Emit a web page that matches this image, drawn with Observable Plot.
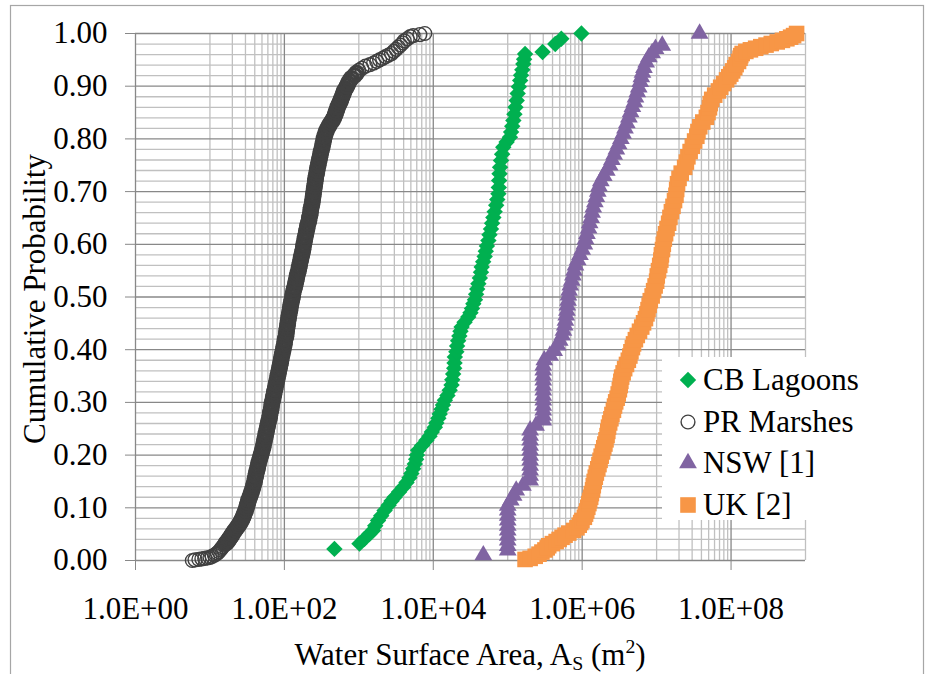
<!DOCTYPE html>
<html>
<head>
<meta charset="utf-8">
<script src="https://cdn.jsdelivr.net/npm/d3@7"></script>
<script src="https://cdn.jsdelivr.net/npm/@observablehq/plot@0.6"></script>
<style>
  html, body { margin: 0; padding: 0; background: #fff; }
  #chart { position: relative; width: 927px; height: 674px; overflow: hidden; }
  #legend { position: absolute; left: 662px; top: 357px; width: 212px; height: 163px;
            background: #fff; box-sizing: border-box; padding-top: 2px; }
  .row { position: relative; height: 41.7px; }
  .row svg { position: absolute; left: 14px; top: 8.85px; }
  .row span { position: absolute; left: 41px; top: 0; line-height: 41.7px;
              color: #000; white-space: nowrap; }
</style>
</head>
<body>
<div id="chart"></div>
<script>
// Cumulative distributions of water surface area: [area (m²), cumulative probability]
const cbLagoons = [
  [470,0.022],[1020,0.032],[1190,0.041],[1380,0.050],[1550,0.057],[1660,0.066],[1810,0.076],
  [2000,0.085],[2220,0.095],[2510,0.105],[2750,0.113],[3020,0.120],[3470,0.130],[3930,0.139],
  [4370,0.148],[4790,0.157],[5080,0.165],[5370,0.174],[5640,0.183],[5890,0.192],[6030,0.200],
  [6250,0.209],[7080,0.218],[8090,0.228],[8910,0.236],[9550,0.244],[10500,0.253],[11000,0.261],
  [11700,0.270],[12200,0.278],[12900,0.287],[13500,0.295],[14300,0.304],[15500,0.313],[16600,0.323],
  [17600,0.333],[18000,0.343],[18500,0.354],[19100,0.365],[19300,0.375],[19500,0.386],[20400,0.396],
  [20900,0.407],[21600,0.417],[22400,0.426],[23200,0.435],[24000,0.443],[26300,0.452],[29500,0.462],
  [31600,0.470],[33100,0.478],[34500,0.487],[36300,0.495],[37600,0.505],[38900,0.515],[40300,0.525],
  [42200,0.536],[43700,0.547],[44700,0.557],[46800,0.567],[49000,0.577],[50700,0.587],[52500,0.597],
  [55000,0.607],[56900,0.618],[59600,0.629],[61700,0.640],[64100,0.651],[66800,0.662],[70000,0.674],
  [72400,0.685],[75000,0.696],[75900,0.708],[76700,0.721],[77600,0.734],[78900,0.746],[81300,0.759],
  [84100,0.771],[87100,0.784],[96600,0.794],[107000,0.803],[111000,0.813],[115000,0.824],[119000,0.835],
  [123000,0.847],[127000,0.860],[132000,0.873],[136000,0.886],[141000,0.899],[147000,0.911],[151000,0.921],
  [157000,0.931],[162000,0.942],[166000,0.951],[171000,0.961],[294000,0.965],[435000,0.980],[525000,0.990],
  [977000,1.000]
];

const prMarshes = [
  [5.8,0.000],[6.3,0.001],[7.1,0.002],[7.8,0.003],[8.5,0.004],[9.3,0.005],[10,0.006],[10.7,0.008],
  [11.5,0.010],[12.0,0.012],[12.6,0.014],[13.2,0.017],[13.8,0.020],[14.3,0.023],[14.8,0.026],[15.5,0.029],
  [16.2,0.032],[17.0,0.035],[17.6,0.038],[18.2,0.041],[18.8,0.044],[19.5,0.047],[20,0.050],[20.9,0.054],
  [21.9,0.058],[22.9,0.062],[24.0,0.066],[25.1,0.070],[26.0,0.074],[26.9,0.078],[27.9,0.082],[28.5,0.086],
  [29.2,0.090],[30.2,0.095],[30.9,0.100],[31.6,0.105],[32.4,0.110],[33.1,0.115],[34.3,0.120],[35.1,0.125],
  [36.3,0.130],[37.2,0.135],[38.0,0.140],[38.9,0.145],[39.8,0.150],[40.3,0.155],[41.2,0.160],[41.7,0.165],
  [42.7,0.170],[43.7,0.175],[44.2,0.180],[45.2,0.185],[46.2,0.190],[47.3,0.195],[48.4,0.200],[49.5,0.205],
  [50.7,0.210],[51.9,0.215],[52.5,0.220],[53.7,0.225],[54.3,0.230],[55.6,0.235],[56.2,0.240],[57.5,0.245],
  [58.2,0.250],[59.6,0.255],[60.3,0.260],[61.7,0.265],[63.1,0.270],[63.8,0.275],[64.6,0.280],[66.1,0.285],
  [66.8,0.290],[67.6,0.295],[68.4,0.300],[70.0,0.305],[70.8,0.310],[72.4,0.315],[73.3,0.320],[75.0,0.325],
  [75.9,0.330],[77.6,0.335],[78.5,0.340],[80.4,0.345],[81.3,0.350],[83.2,0.355],[84.1,0.360],[86.1,0.365],
  [87.1,0.370],[89.1,0.375],[90.2,0.380],[91.2,0.385],[93.3,0.390],[94.4,0.395],[96.6,0.400],[97.7,0.405],
  [100,0.410],[101,0.415],[102,0.420],[105,0.425],[106,0.430],[107,0.435],[108,0.440],[110,0.445],
  [111,0.450],[112,0.455],[114,0.460],[115,0.465],[117,0.470],[119,0.475],[120,0.480],[122,0.485],
  [124,0.490],[126,0.495],[129,0.500],[130,0.505],[132,0.510],[135,0.515],[138,0.520],[141,0.525],
  [143,0.530],[146,0.535],[148,0.540],[151,0.545],[155,0.550],[157,0.555],[160,0.560],[162,0.565],
  [166,0.570],[168,0.575],[172,0.580],[174,0.585],[178,0.590],[180,0.595],[182,0.600],[186,0.605],
  [188,0.610],[191,0.615],[195,0.620],[197,0.625],[202,0.630],[204,0.635],[209,0.640],[214,0.645],
  [216,0.650],[221,0.655],[224,0.660],[226,0.665],[229,0.670],[234,0.675],[237,0.680],[240,0.685],
  [243,0.690],[245,0.695],[248,0.700],[251,0.705],[254,0.710],[257,0.715],[260,0.720],[263,0.725],
  [266,0.730],[272,0.735],[275,0.740],[279,0.745],[285,0.750],[288,0.755],[295,0.760],[299,0.765],
  [305,0.770],[309,0.775],[316,0.780],[324,0.785],[327,0.790],[335,0.795],[339,0.800],[347,0.805],
  [355,0.810],[367,0.815],[380,0.820],[398,0.825],[417,0.830],[442,0.835],[462,0.840],[479,0.845],
  [490,0.850],[507,0.855],[519,0.860],[537,0.865],[562,0.870],[575,0.875],[596,0.880],[617,0.885],
  [631,0.890],[661,0.895],[692,0.900],[716,0.905],[750,0.910],[794,0.915],[871,0.920],[933,0.925],
  [1000,0.930],[1100,0.934],[1230,0.938],[1410,0.941],[1580,0.944],[1740,0.947],[1900,0.950],[2090,0.953],
  [2290,0.956],[2510,0.959],[2750,0.962],[2950,0.966],[3160,0.970],[3390,0.974],[3630,0.978],[3890,0.982],
  [4070,0.986],[4470,0.990],[4900,0.994],[5370,0.996],[6610,0.998],[7690,1.000]
];

const nsw = [
  [47000,0.010],[100000,0.019],[100000,0.028],[100000,0.038],[100000,0.047],[100000,0.057],[100000,0.066],
  [100000,0.076],[100000,0.085],[100000,0.095],[100000,0.104],[110000,0.114],[120000,0.123],[130000,0.133],
  [160000,0.142],[200000,0.152],[200000,0.161],[200000,0.171],[200000,0.180],[200000,0.190],[200000,0.199],
  [200000,0.209],[200000,0.218],[200000,0.228],[200000,0.237],[200000,0.247],[240000,0.256],[300000,0.266],
  [300000,0.275],[300000,0.285],[300000,0.294],[300000,0.304],[300000,0.313],[300000,0.323],[300000,0.332],
  [300000,0.342],[300000,0.351],[300000,0.361],[300000,0.370],[310000,0.380],[370000,0.389],[420000,0.398],
  [470000,0.408],[500000,0.417],[540000,0.427],[560000,0.436],[582000,0.446],[596000,0.455],[610000,0.465],
  [624000,0.474],[631000,0.484],[646000,0.493],[653000,0.503],[668000,0.512],[692000,0.522],[724000,0.531],
  [750000,0.541],[776000,0.550],[813000,0.560],[871000,0.570],[933000,0.580],[1000000,0.590],[1070000,0.600],
  [1110000,0.610],[1160000,0.620],[1220000,0.630],[1260000,0.640],[1320000,0.650],[1360000,0.660],
  [1410000,0.670],[1480000,0.680],[1550000,0.690],[1620000,0.700],[1680000,0.710],[1780000,0.720],
  [1950000,0.730],[2140000,0.740],[2340000,0.750],[2510000,0.760],[2690000,0.770],[2880000,0.780],
  [3090000,0.790],[3310000,0.800],[3550000,0.810],[3760000,0.820],[3980000,0.830],[4240000,0.841],
  [4470000,0.851],[4730000,0.861],[5010000,0.870],[5200000,0.879],[5500000,0.889],[5750000,0.898],
  [6030000,0.908],[6240000,0.917],[6460000,0.926],[6760000,0.935],[7240000,0.945],[7870000,0.955],
  [8710000,0.963],[9660000,0.971],[11900000,0.977],[37800000,1.000]
];

const uk = [
  [171000,0.002],[200000,0.004],[234000,0.008],[263000,0.012],[288000,0.016],[316000,0.020],[339000,0.024],
  [355000,0.028],[398000,0.032],[447000,0.036],[490000,0.040],[537000,0.044],[589000,0.048],[661000,0.052],
  [767000,0.057],[851000,0.062],[912000,0.067],[955000,0.072],[993000,0.076],[1070000,0.082],[1110000,0.088],
  [1150000,0.094],[1190000,0.101],[1230000,0.108],[1260000,0.114],[1300000,0.120],[1330000,0.127],
  [1380000,0.134],[1410000,0.142],[1450000,0.150],[1500000,0.158],[1550000,0.166],[1620000,0.174],
  [1680000,0.182],[1740000,0.190],[1800000,0.198],[1880000,0.206],[1950000,0.214],[2020000,0.221],
  [2090000,0.229],[2160000,0.237],[2210000,0.245],[2260000,0.253],[2340000,0.261],[2430000,0.269],
  [2510000,0.277],[2630000,0.285],[2720000,0.293],[2820000,0.301],[2950000,0.308],[3050000,0.316],
  [3160000,0.324],[3240000,0.332],[3310000,0.340],[3390000,0.348],[3550000,0.356],[3720000,0.364],
  [3940000,0.372],[4170000,0.380],[4370000,0.388],[4520000,0.396],[4730000,0.404],[4900000,0.411],
  [5190000,0.419],[5500000,0.427],[5890000,0.435],[6310000,0.443],[6680000,0.451],[7080000,0.459],
  [7410000,0.468],[7670000,0.476],[7940000,0.484],[8220000,0.493],[8710000,0.502],[9120000,0.512],
  [9550000,0.521],[1.00e7,0.530],[1.02e7,0.540],[1.06e7,0.550],[1.10e7,0.560],[1.14e7,0.570],[1.16e7,0.580],
  [1.20e7,0.590],[1.23e7,0.600],[1.27e7,0.610],[1.32e7,0.620],[1.38e7,0.630],[1.45e7,0.640],[1.51e7,0.651],
  [1.58e7,0.662],[1.66e7,0.672],[1.74e7,0.683],[1.82e7,0.693],[1.86e7,0.704],[1.91e7,0.715],[2.00e7,0.725],
  [2.14e7,0.735],[2.38e7,0.746],[2.51e7,0.756],[2.63e7,0.766],[2.82e7,0.776],[3.02e7,0.786],[3.24e7,0.796],
  [3.47e7,0.805],[3.59e7,0.814],[3.80e7,0.823],[4.17e7,0.832],[4.66e7,0.841],[4.90e7,0.850],[5.13e7,0.859],
  [5.25e7,0.867],[5.50e7,0.875],[6.03e7,0.883],[6.76e7,0.891],[7.26e7,0.898],[7.94e7,0.905],[8.71e7,0.912],
  [9.33e7,0.918],[9.91e7,0.923],[1.05e8,0.929],[1.12e8,0.935],[1.17e8,0.941],[1.26e8,0.947],[1.32e8,0.953],
  [1.35e8,0.958],[1.41e8,0.962],[1.58e8,0.966],[1.82e8,0.969],[2.14e8,0.972],[2.51e8,0.975],[2.95e8,0.978],
  [3.47e8,0.981],[4.17e8,0.984],[4.90e8,0.987],[5.62e8,0.990],[6.31e8,0.993],[6.92e8,0.996],[7.59e8,1.000]
];

const seriesNames = ["CB Lagoons", "PR Marshes", "NSW [1]", "UK [2]"];
const xTicks = [1, 1e2, 1e4, 1e6, 1e8];
const xTickLabels = ["1.0E+00", "1.0E+02", "1.0E+04", "1.0E+06", "1.0E+08"];
const yTicks = [0, 0.1, 0.2, 0.3, 0.4, 0.5, 0.6, 0.7, 0.8, 0.9, 1.0];
const yTickLabels = ["0.00", "0.10", "0.20", "0.30", "0.40", "0.50", "0.60", "0.70", "0.80", "0.90", "1.00"];

// Pick the first installed face from a Times-like list, then plain sans faces
function pickFont() {
  const ctx = document.createElement("canvas").getContext("2d");
  const sample = "Cumulative Probability 1.0E+04 WMmwil";
  const candidates = ["Liberation Serif", "Tinos", "Times New Roman", "Nimbus Roman", "FreeSerif",
                      "DejaVu Serif", "Noto Serif", "Liberation Sans", "Arimo", "DejaVu Sans"];
  for (const fam of candidates) {
    for (const fb of ["monospace", "sans-serif"]) {
      ctx.font = `40px ${fb}`;
      const w0 = ctx.measureText(sample).width;
      ctx.font = `40px "${fam}", ${fb}`;
      if (Math.abs(ctx.measureText(sample).width - w0) > 0.5) return `"${fam}", serif`;
    }
  }
  return "serif";
}
const fontStack = pickFont();
// Size the text so the axis title spans the same length whatever face is used
const fontSize = (() => {
  const ctx = document.createElement("canvas").getContext("2d");
  ctx.font = `31px ${fontStack}`;
  const w = ctx.measureText("Cumulative Probability").width;
  return Math.min(31, 31 * 290 / w);
})();
const subSize = fontSize * 0.64;

// Marker styling per series
const markers = [
  {symbol: "diamond2", r: 7.4, fill: "#00B050", stroke: "none", strokeWidth: 0},
  {symbol: "circle",   r: 6.9, fill: "none", stroke: "#404040", strokeWidth: 1.4},
  {symbol: "triangle", r: 6.6, fill: "#8064A2", stroke: "none", strokeWidth: 0},
  {symbol: "square",   r: 8.8, fill: "#F79646", stroke: "none", strokeWidth: 0}
];
const seriesData = [cbLagoons, prMarshes, nsw, uk];

// Gridlines: minor every 0.02 on y; on x, multiples within each two-decade major step
const yMinor = d3.range(1, 50).map(i => i / 50).filter(v => Math.abs(v * 10 - Math.round(v * 10)) > 1e-9);
const xMinor = [];
for (const e of [0, 2, 4, 6, 8]) for (let m = 1; m <= 9; m++) {
  const v = m * 10 ** (e + 1);
  if (v <= 1e9) xMinor.push(v);
}

const xLabel = new Map(xTicks.map((t, i) => [t, xTickLabels[i]]));
const yLabel = new Map(yTicks.map((t, i) => [t, yTickLabels[i]]));

// Overlapping open circles in the crowded middle of the marsh curve merge into a solid band
const dotOptions = (i) => {
  const m = markers[i];
  if (m.symbol !== "circle") return m;
  return {...m, strokeWidth: d => (d[1] > 0.03 && d[1] < 0.93 ? 3 : m.strokeWidth)};
};

const svg = Plot.plot({
  width: 927,
  height: 674,
  marginLeft: 135,
  marginRight: 122,
  marginTop: 33,
  marginBottom: 114,
  x: {type: "log", domain: [1, 1e9]},
  y: {domain: [0, 1]},
  style: {fontFamily: fontStack, fontSize: `${fontSize}px`, color: "black", background: "white", overflow: "visible"},
  marks: [
    Plot.ruleY(yMinor, {stroke: "#c0c0c0", strokeWidth: 1.3}),
    Plot.ruleX(xMinor, {stroke: "#c0c0c0", strokeWidth: 1.3}),
    Plot.ruleY(yTicks, {stroke: "#888888", strokeWidth: 1.3}),
    Plot.ruleX(xTicks, {stroke: "#888888", strokeWidth: 1.3}),
    Plot.axisY(yTicks, {anchor: "left", tickSize: 10, tickPadding: 18, stroke: "#888888", fill: "black",
                        fontSize, tickFormat: d => yLabel.get(d), label: null}),
    Plot.axisX(xTicks, {anchor: "bottom", tickSize: 10, tickPadding: 26, stroke: "#888888", fill: "black",
                        fontSize, tickFormat: d => xLabel.get(d), label: null}),
    ...seriesData.map((data, i) => Plot.dot(data, {x: d => d[0], y: d => d[1], ...dotOptions(i)}))
  ]
});

const root = d3.select(svg);
// Chart area border
root.insert("rect", ":first-child")
  .attr("x", 10.5).attr("y", 5.5).attr("width", 913).attr("height", 700)
  .attr("fill", "none").attr("stroke", "#a6a6a6").attr("stroke-width", 1.2);

// Axis titles
root.append("text")
  .attr("transform", "translate(45,299) rotate(-90)")
  .attr("text-anchor", "middle").attr("font-size", fontSize).attr("fill", "black")
  .attr("font-family", fontStack)
  .text("Cumulative Probability");

const xt = root.append("text")
  .attr("x", 470).attr("y", 665)
  .attr("text-anchor", "middle").attr("font-size", fontSize).attr("fill", "black")
  .attr("font-family", fontStack);
xt.append("tspan").text("Water Surface Area, A");
xt.append("tspan").attr("font-size", subSize).attr("dy", 5).text("S");
xt.append("tspan").attr("font-size", fontSize).attr("dy", -5).text(" (m");
xt.append("tspan").attr("font-size", subSize).attr("dy", -12).text("2");
xt.append("tspan").attr("font-size", fontSize).attr("dy", 12).text(")");

const chart = document.getElementById("chart");
chart.style.fontFamily = fontStack;
chart.appendChild(svg);

// Legend
const legend = document.createElement("div");
legend.id = "legend";
const typeMap = {diamond2: d3.symbolDiamond2, circle: d3.symbolCircle, triangle: d3.symbolTriangle, square: d3.symbolSquare};
seriesNames.forEach((name, i) => {
  const row = document.createElement("div");
  row.className = "row";
  const m = markers[i];
  const path = d3.symbol(typeMap[m.symbol], Math.PI * m.r * m.r)();
  row.innerHTML =
    `<svg width="24" height="24" viewBox="-12 -12 24 24"><path d="${path}" fill="${m.fill}" stroke="${m.stroke}" stroke-width="${m.strokeWidth}"/></svg>` +
    `<span style="font-size:${fontSize}px">${name}</span>`;
  legend.appendChild(row);
});
chart.appendChild(legend);
</script>
</body>
</html>
